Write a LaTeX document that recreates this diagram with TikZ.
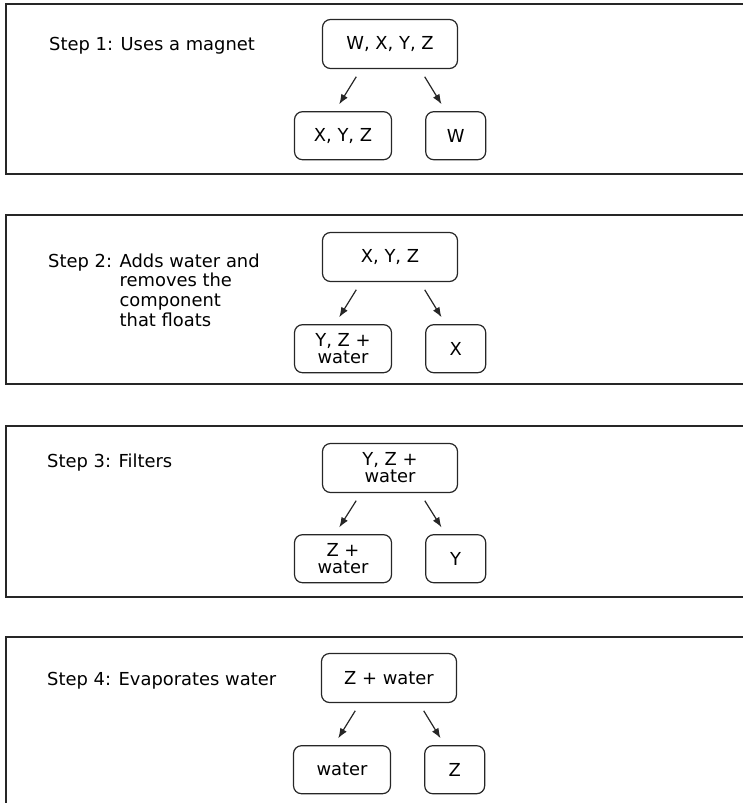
\documentclass[tikz,border=0pt]{standalone}
\usepackage{fontspec}
\setmainfont{DejaVu Sans}
\usetikzlibrary{positioning,arrows.meta}

\tikzset{
  panel/.style={draw=black!85, line width=1.6pt},
  flowbox/.style={draw=black!85, line width=1.2pt, rounded corners=8pt,
    align=center, minimum height=48pt, inner sep=2pt,
    font=\fontsize{17.9}{17}\selectfont},
  steptext/.style={anchor=base west, inner sep=0pt,
    font=\fontsize{17.9}{19.7}\selectfont},
  split/.style={-{Latex[length=10pt,width=7.5pt]}, line width=1.2pt,
    draw=black!85, shorten <=9pt, shorten >=8pt}
}

\begin{document}
\begin{tikzpicture}[x=1pt,y=-1pt]

    \useasboundingbox (0,0) rectangle (742,803);

    % the four panels
    \draw[panel] (6,4) rectangle (760,174);
    \draw[panel] (6,215) rectangle (760,384);
    \draw[panel] (6,426) rectangle (760,597);
    \draw[panel] (6,637) rectangle (760,830);

    % step 1
    \node[steptext] (step1) at (49,50) {Step 1: Uses a magnet};
    \node[flowbox, minimum width=135pt, minimum height=49pt] (top1) at (390,44) {W, X, Y, Z};
    \node[flowbox, minimum width=97pt, below=42pt of top1, xshift=-47pt] (left1) {X, Y, Z};
    \node[flowbox, minimum width=60pt, right=33pt of left1] (right1) {W};
    \draw[split] ([xshift=-29pt]top1.south) -- ([xshift=-8pt]left1.north);
    \draw[split] ([xshift=30pt]top1.south) -- ([xshift=-10pt]right1.north);

    % step 2
    \node[steptext] (step2) at (48,267) {Step 2: \begin{tabular}[t]{@{}l@{}}Adds water and\\removes the\\component\\that floats\end{tabular}};
    \node[flowbox, minimum width=135pt, minimum height=49pt] (top2) at (390,257) {X, Y, Z};
    \node[flowbox, minimum width=97pt, below=42pt of top2, xshift=-47pt] (left2) {Y, Z +\\water};
    \node[flowbox, minimum width=60pt, right=33pt of left2] (right2) {X};
    \draw[split] ([xshift=-29pt]top2.south) -- ([xshift=-8pt]left2.north);
    \draw[split] ([xshift=30pt]top2.south) -- ([xshift=-10pt]right2.north);

    % step 3
    \node[steptext] (step3) at (47,467) {Step 3: Filters};
    \node[flowbox, minimum width=135pt, minimum height=49pt] (top3) at (390,468) {Y, Z +\\water};
    \node[flowbox, minimum width=97pt, below=41pt of top3, xshift=-47pt] (left3) {Z +\\water};
    \node[flowbox, minimum width=60pt, right=33pt of left3] (right3) {Y};
    \draw[split] ([xshift=-29pt]top3.south) -- ([xshift=-8pt]left3.north);
    \draw[split] ([xshift=30pt]top3.south) -- ([xshift=-10pt]right3.north);

    % step 4
    \node[steptext] (step4) at (47,685) {Step 4: Evaporates water};
    \node[flowbox, minimum width=135pt, minimum height=49pt] (top4) at (389,678) {Z + water};
    \node[flowbox, minimum width=97pt, below=42pt of top4, xshift=-47pt] (left4) {water};
    \node[flowbox, minimum width=60pt, right=33pt of left4] (right4) {Z};
    \draw[split] ([xshift=-29pt]top4.south) -- ([xshift=-8pt]left4.north);
    \draw[split] ([xshift=30pt]top4.south) -- ([xshift=-10pt]right4.north);

\end{tikzpicture}
\end{document}
